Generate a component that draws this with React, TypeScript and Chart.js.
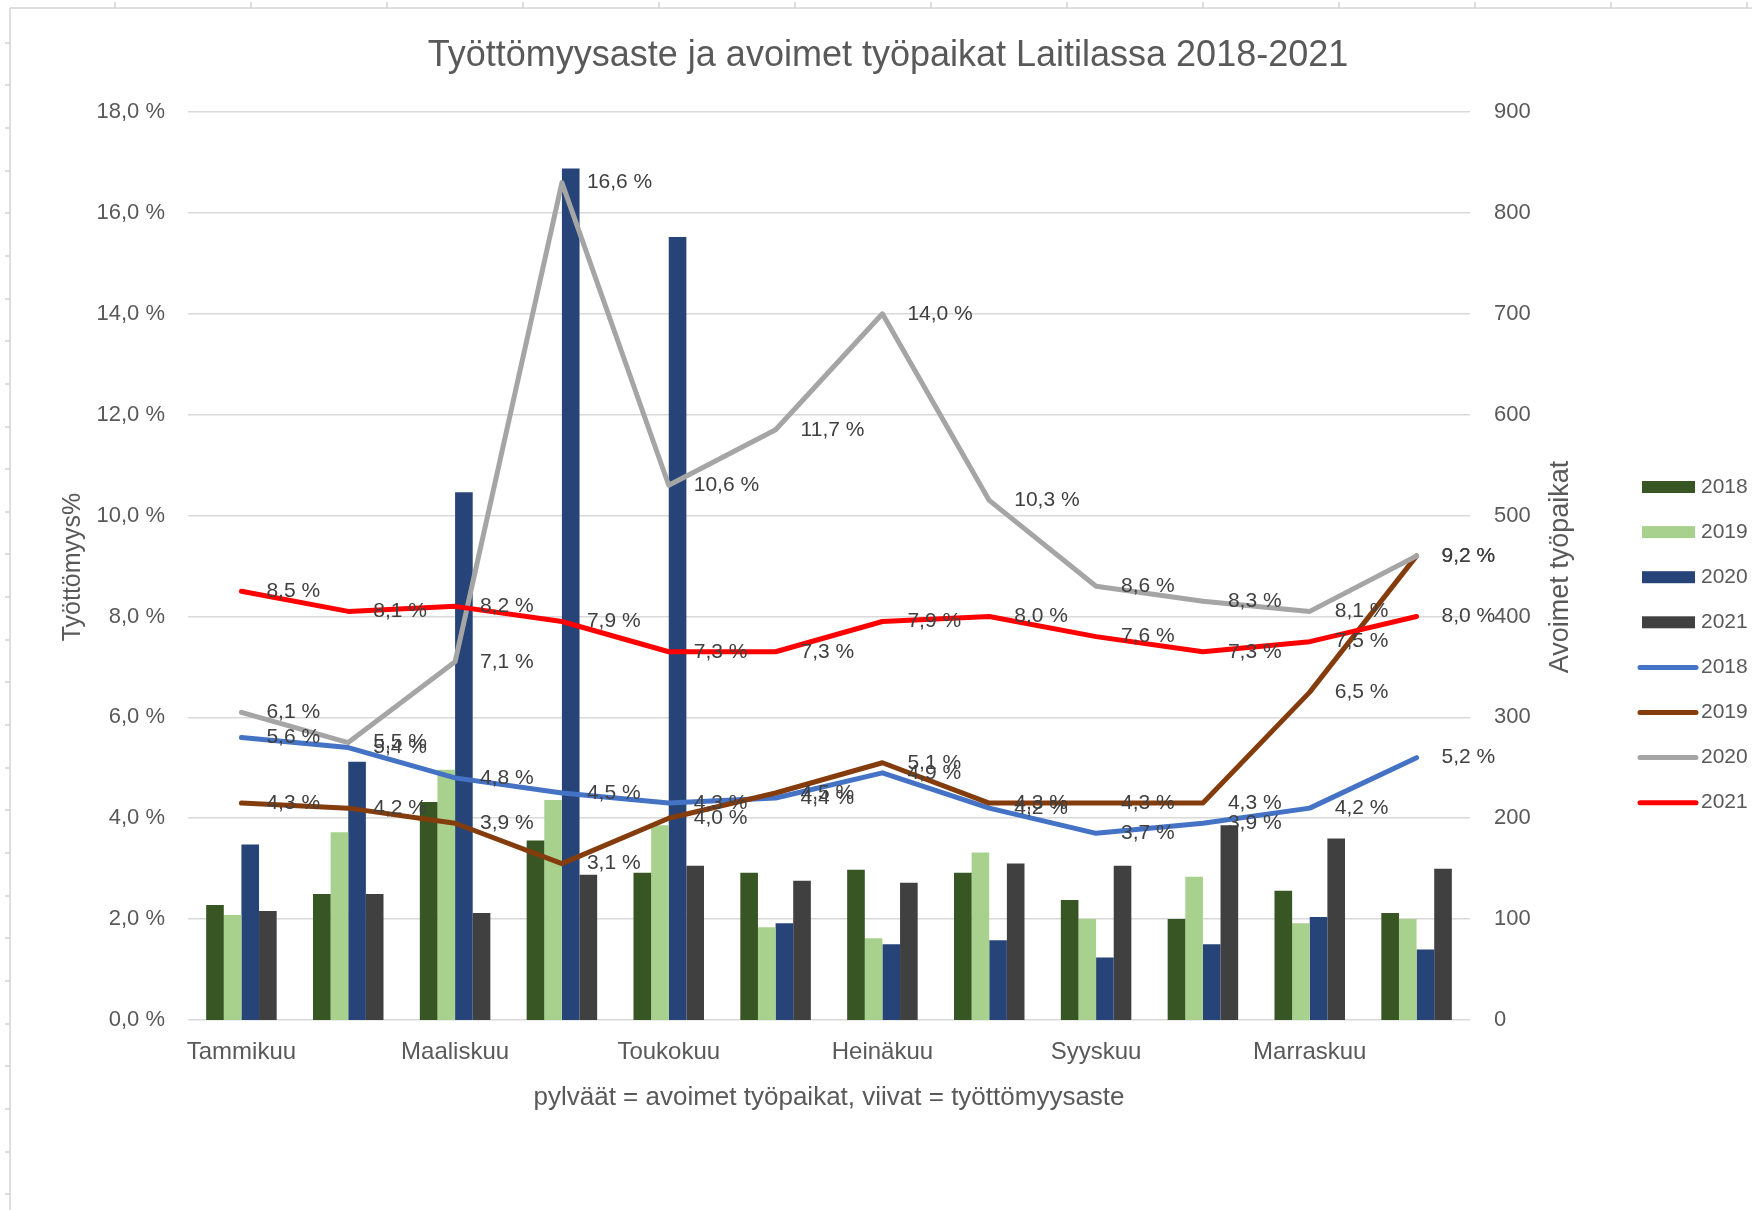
import React, { useEffect, useRef } from "react";
import { Chart, registerables } from "chart.js";

Chart.register(...registerables);

const months = [
  "Tammikuu", "Helmikuu", "Maaliskuu", "Huhtikuu", "Toukokuu", "Kesäkuu",
  "Heinäkuu", "Elokuu", "Syyskuu", "Lokakuu", "Marraskuu", "Joulukuu",
];

// Avoimet työpaikat (bars, right axis)
const jobs2018 = [114, 125, 216, 178, 146, 146, 149, 146, 119, 100, 128, 106];
const jobs2019 = [104, 186, 248, 218, 193, 92, 81, 166, 100, 142, 96, 100];
const jobs2020 = [174, 256, 523, 844, 776, 96, 75, 79, 62, 75, 102, 70];
const jobs2021 = [108, 125, 106, 144, 153, 138, 136, 155, 153, 193, 180, 150];

// Työttömyysaste % (lines, left axis)
const unemp2018 = [5.6, 5.4, 4.8, 4.5, 4.3, 4.4, 4.9, 4.2, 3.7, 3.9, 4.2, 5.2];
const unemp2019 = [4.3, 4.2, 3.9, 3.1, 4.0, 4.5, 5.1, 4.3, 4.3, 4.3, 6.5, 9.2];
const unemp2020 = [6.1, 5.5, 7.1, 16.6, 10.6, 11.7, 14.0, 10.3, 8.6, 8.3, 8.1, 9.2];
const unemp2021 = [8.5, 8.1, 8.2, 7.9, 7.3, 7.3, 7.9, 8.0, 7.6, 7.3, 7.5, 8.0];

const leftTicksMax = 18;
const rightTicksMax = 900;

const title = "Työttömyysaste ja avoimet työpaikat Laitilassa 2018-2021";
const leftTitle = "Työttömyys%";
const rightTitle = "Avoimet työpaikat";
const xTitle = "pylväät = avoimet työpaikat, viivat = työttömyysaste";

const FONT = "'Liberation Sans', Arial, sans-serif";
const TEXT = "#595959";

const barColors = ["#375623", "#a9d18e", "#264478", "#404040"];
const lineColors = ["#4472c4", "#843c0c", "#a5a5a5", "#ff0000"];
const years = ["2018", "2019", "2020", "2021"];

const fmtPct = (v: number) => v.toFixed(1).replace(".", ",") + " %";

const decorPlugin = {
  id: "decor",
  beforeDraw(chart: any) {
    const ctx = chart.ctx;
    ctx.save();
    ctx.fillStyle = "#ffffff";
    ctx.fillRect(0, 0, chart.width, chart.height);
    // sheet frame lines
    ctx.strokeStyle = "#d4d4d4";
    ctx.lineWidth = 1.5;
    ctx.beginPath();
    ctx.moveTo(10, 8);
    ctx.lineTo(chart.width, 8);
    ctx.moveTo(10, 8);
    ctx.lineTo(10, chart.height);
    for (let k = 0; k < 13; k++) {
      const x = 115 + 136 * k;
      ctx.moveTo(x, 2);
      ctx.lineTo(x, 8);
    }
    for (let k = 1; k < 29; k++) {
      const y = Math.round(42.65 * k);
      ctx.moveTo(5, y);
      ctx.lineTo(10, y);
    }
    ctx.stroke();
    ctx.restore();
  },
  afterDatasetsDraw(chart: any) {
    const ctx = chart.ctx;
    ctx.save();
    // data labels for the line series
    ctx.font = `21px ${FONT}`;
    ctx.fillStyle = "#404040";
    ctx.textAlign = "left";
    ctx.textBaseline = "middle";
    chart.data.datasets.forEach((ds: any, i: number) => {
      if (ds.type !== "line") return;
      const meta = chart.getDatasetMeta(i);
      meta.data.forEach((pt: any, j: number) => {
        ctx.fillText(fmtPct(ds.data[j]), pt.x + 25, pt.y);
      });
    });
    ctx.restore();
  },
  afterDraw(chart: any) {
    const ctx = chart.ctx;
    const area = chart.chartArea;
    ctx.save();
    ctx.fillStyle = TEXT;
    // title
    ctx.font = `36px ${FONT}`;
    ctx.textAlign = "center";
    ctx.textBaseline = "alphabetic";
    ctx.fillText(title, 888, 66);
    // x title
    ctx.textBaseline = "middle";
    ctx.font = `26px ${FONT}`;
    ctx.fillText(xTitle, (area.left + area.right) / 2, 1098);
    // y titles
    ctx.save();
    ctx.font = `25px ${FONT}`;
    ctx.translate(73, 567);
    ctx.rotate(-Math.PI / 2);
    ctx.fillText(leftTitle, 0, 0);
    ctx.restore();
    ctx.save();
    ctx.font = `27px ${FONT}`;
    ctx.translate(1561, 567);
    ctx.rotate(-Math.PI / 2);
    ctx.fillText(rightTitle, 0, 0);
    ctx.restore();
    // legend
    ctx.font = `21px ${FONT}`;
    ctx.textAlign = "left";
    const y0 = 487;
    const dy = 45.1;
    years.forEach((yr, i) => {
      const y = y0 + dy * i;
      ctx.fillStyle = barColors[i];
      ctx.fillRect(1642, y - 6, 53, 12);
      ctx.fillStyle = TEXT;
      ctx.fillText(yr, 1701, y);
    });
    years.forEach((yr, i) => {
      const y = y0 + dy * (i + 4);
      ctx.strokeStyle = lineColors[i];
      ctx.lineWidth = 5;
      ctx.lineCap = "round";
      ctx.beginPath();
      ctx.moveTo(1640, y);
      ctx.lineTo(1696, y);
      ctx.stroke();
      ctx.fillStyle = TEXT;
      ctx.fillText(yr, 1701, y);
    });
    ctx.restore();
  },
};

export default function App() {
  const ref = useRef<HTMLCanvasElement | null>(null);
  useEffect(() => {
    document.body.style.margin = "0";
    const canvas = ref.current!;
    const barSets = [jobs2018, jobs2019, jobs2020, jobs2021].map((d, i) => ({
      type: "bar" as const,
      label: years[i],
      data: d,
      yAxisID: "y1",
      backgroundColor: barColors[i],
      borderWidth: 0,
      categoryPercentage: 0.66,
      barPercentage: 1.0,
      order: 10,
    }));
    const lineSets = [unemp2018, unemp2019, unemp2020, unemp2021].map((d, i) => ({
      type: "line" as const,
      label: years[i],
      data: d,
      yAxisID: "y",
      borderColor: lineColors[i],
      backgroundColor: lineColors[i],
      borderWidth: 5,
      pointRadius: 0,
      tension: 0,
      fill: false,
      borderCapStyle: "round",
      borderJoinStyle: "round",
      order: 4 - i,
    }));
    const chart = new Chart(canvas, {
      type: "bar",
      data: { labels: months, datasets: [...barSets, ...lineSets] as any },
      plugins: [decorPlugin],
      options: {
        responsive: false,
        animation: false,
        devicePixelRatio: 1,
        layout: { padding: { left: 20, top: 112, right: 182, bottom: 100 } },
        plugins: { legend: { display: false }, tooltip: { enabled: false }, title: { display: false } },
        scales: {
          x: {
            offset: true,
            grid: { display: false },
            border: { display: false },
            ticks: {
              autoSkip: false,
              maxRotation: 0,
              color: TEXT,
              font: { family: FONT, size: 24 },
              padding: 10,
              callback: (_v: any, i: number) => (i % 2 === 0 ? months[i] : ""),
            },
            afterFit: (s: any) => { s.height = 90; },
          },
          y: {
            position: "left",
            min: 0,
            max: leftTicksMax,
            ticks: {
              stepSize: 2,
              color: TEXT,
              font: { family: FONT, size: 22 },
              padding: 23,
              callback: (v: any) => fmtPct(Number(v)),
            },
            grid: { color: "#d9d9d9", lineWidth: 1.5, drawTicks: false },
            border: { display: false },
            afterFit: (s: any) => { s.width = 168; },
          },
          y1: {
            position: "right",
            min: 0,
            max: rightTicksMax,
            ticks: {
              stepSize: 100,
              color: TEXT,
              font: { family: FONT, size: 22 },
              padding: 24,
            },
            grid: { display: false, drawTicks: false },
            border: { display: false },
            afterFit: (s: any) => { s.width = 100; },
          },
        },
      } as any,
    });
    return () => chart.destroy();
  }, []);
  return <canvas ref={ref} width={1752} height={1210} style={{ display: "block" }} />;
}
